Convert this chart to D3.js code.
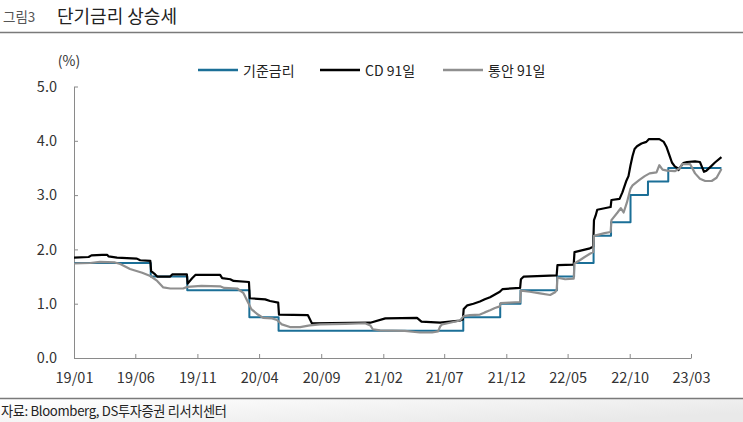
<!DOCTYPE html>
<html>
<head>
<meta charset="utf-8">
<script src="https://cdn.jsdelivr.net/npm/d3@7"></script>
<style>
  body { margin: 0; background: #fff; }
  svg { display: block; }
</style>
</head>
<body>
<svg id="chart" width="743" height="422"></svg>
<script>
// series names and colours (legend order = draw order)
const seriesNames = ["기준금리", "CD 91일", "통안 91일"];
const seriesColors = ["#1b6f97", "#000000", "#8f8f8f"];

const tickDates = ["2019-01-10", "2019-06-10", "2019-11-10", "2020-04-10", "2020-09-10", "2021-02-10",
  "2021-07-10", "2021-12-10", "2022-05-10", "2022-10-10", "2023-03-10"];
const tickLabels = ["19/01", "19/06", "19/11", "20/04", "20/09", "21/02", "21/07", "21/12", "22/05", "22/10", "23/03"];
const yTicks = [0, 1, 2, 3, 4, 5];

// 기준금리 (step)
const baseRate = [
  ["2019-01-10", 1.75], ["2019-07-18", 1.50], ["2019-10-16", 1.25], ["2020-03-17", 0.75],
  ["2020-05-28", 0.50], ["2021-08-26", 0.75], ["2021-11-25", 1.00], ["2022-01-14", 1.25],
  ["2022-04-14", 1.50], ["2022-05-26", 1.75], ["2022-07-13", 2.25], ["2022-08-25", 2.50],
  ["2022-10-12", 3.00], ["2022-11-24", 3.25], ["2023-01-13", 3.50], ["2023-05-24", 3.50]
];

// CD 91일
const cd91 = [
  ["2019-01-10", 1.85], ["2019-02-15", 1.86], ["2019-02-22", 1.89], ["2019-03-20", 1.90],
  ["2019-04-02", 1.90], ["2019-04-05", 1.87], ["2019-04-26", 1.85], ["2019-06-14", 1.83],
  ["2019-06-22", 1.80], ["2019-07-17", 1.79], ["2019-07-19", 1.60], ["2019-07-29", 1.54],
  ["2019-08-03", 1.50], ["2019-09-04", 1.50], ["2019-09-09", 1.54], ["2019-10-15", 1.54],
  ["2019-10-17", 1.37], ["2019-10-28", 1.47], ["2019-11-05", 1.53], ["2020-01-05", 1.53],
  ["2020-01-10", 1.47], ["2020-01-30", 1.45], ["2020-02-07", 1.42], ["2020-03-16", 1.40],
  ["2020-03-18", 1.10], ["2020-04-25", 1.08], ["2020-05-07", 1.05], ["2020-05-27", 1.02],
  ["2020-05-29", 0.80], ["2020-08-08", 0.79], ["2020-08-18", 0.64], ["2021-01-09", 0.65],
  ["2021-02-15", 0.73], ["2021-05-04", 0.74], ["2021-05-15", 0.67], ["2021-06-30", 0.65],
  ["2021-08-18", 0.69], ["2021-08-25", 0.71], ["2021-08-27", 0.90], ["2021-09-05", 0.97],
  ["2021-09-20", 1.00], ["2021-10-06", 1.04], ["2021-10-18", 1.08], ["2021-10-31", 1.12],
  ["2021-11-12", 1.17], ["2021-11-24", 1.22], ["2021-12-01", 1.27], ["2022-01-13", 1.29],
  ["2022-01-15", 1.45], ["2022-01-22", 1.50], ["2022-04-13", 1.52], ["2022-04-15", 1.71],
  ["2022-05-25", 1.72], ["2022-05-27", 1.95], ["2022-07-04", 2.02], ["2022-07-12", 2.05],
  ["2022-07-14", 2.54], ["2022-07-18", 2.62], ["2022-07-22", 2.73], ["2022-08-24", 2.78],
  ["2022-08-26", 2.91], ["2022-09-15", 2.93], ["2022-09-22", 3.05], ["2022-10-01", 3.25],
  ["2022-10-07", 3.35], ["2022-10-12", 3.55], ["2022-10-17", 3.72], ["2022-10-22", 3.85],
  ["2022-10-28", 3.90], ["2022-11-08", 3.95], ["2022-11-20", 3.98], ["2022-11-26", 4.03],
  ["2022-12-22", 4.03], ["2023-01-02", 3.98], ["2023-01-09", 3.88], ["2023-01-17", 3.71],
  ["2023-01-22", 3.60], ["2023-01-29", 3.53], ["2023-02-04", 3.50], ["2023-02-07", 3.46],
  ["2023-02-13", 3.53], ["2023-02-19", 3.59], ["2023-02-28", 3.61], ["2023-03-20", 3.62],
  ["2023-04-01", 3.61], ["2023-04-06", 3.52], ["2023-04-11", 3.43], ["2023-04-17", 3.45],
  ["2023-04-27", 3.52], ["2023-05-08", 3.60], ["2023-05-24", 3.70]
];

// 통안 91일
const msb91 = [
  ["2019-01-10", 1.74], ["2019-02-19", 1.75], ["2019-03-15", 1.77], ["2019-04-21", 1.76],
  ["2019-05-04", 1.73], ["2019-05-28", 1.64], ["2019-06-27", 1.57], ["2019-07-17", 1.51],
  ["2019-08-03", 1.42], ["2019-08-18", 1.30], ["2019-09-04", 1.28], ["2019-10-06", 1.28],
  ["2019-10-16", 1.31], ["2019-11-20", 1.33], ["2020-01-05", 1.32], ["2020-01-15", 1.29],
  ["2020-02-16", 1.28], ["2020-03-02", 1.20], ["2020-03-12", 1.05], ["2020-03-22", 0.90],
  ["2020-04-07", 0.80], ["2020-04-20", 0.74], ["2020-05-12", 0.73], ["2020-05-24", 0.70],
  ["2020-06-05", 0.62], ["2020-06-25", 0.57], ["2020-07-20", 0.57], ["2020-08-13", 0.60],
  ["2020-09-07", 0.62], ["2020-11-08", 0.63], ["2020-12-27", 0.64], ["2021-01-09", 0.60],
  ["2021-01-15", 0.53], ["2021-02-02", 0.51], ["2021-04-04", 0.50], ["2021-05-11", 0.47],
  ["2021-06-10", 0.47], ["2021-06-25", 0.49], ["2021-06-30", 0.58], ["2021-07-05", 0.62],
  ["2021-07-24", 0.65], ["2021-08-18", 0.69], ["2021-08-27", 0.77], ["2021-09-11", 0.79],
  ["2021-10-06", 0.80], ["2021-10-18", 0.84], ["2021-10-31", 0.88], ["2021-11-12", 0.92],
  ["2021-11-24", 0.95], ["2021-11-26", 1.01], ["2021-12-19", 1.02], ["2022-01-13", 1.03],
  ["2022-01-15", 1.24], ["2022-02-06", 1.22], ["2022-03-03", 1.19], ["2022-03-28", 1.16],
  ["2022-04-09", 1.21], ["2022-04-13", 1.25], ["2022-04-15", 1.48], ["2022-05-04", 1.45],
  ["2022-05-25", 1.46], ["2022-05-27", 1.74], ["2022-06-09", 1.80], ["2022-06-21", 1.86],
  ["2022-07-04", 1.92], ["2022-07-12", 1.95], ["2022-07-14", 2.25], ["2022-08-09", 2.30],
  ["2022-08-24", 2.32], ["2022-08-26", 2.54], ["2022-09-10", 2.68], ["2022-09-18", 2.76],
  ["2022-09-25", 2.68], ["2022-10-03", 2.86], ["2022-10-12", 3.12], ["2022-10-17", 3.18],
  ["2022-11-03", 3.28], ["2022-11-16", 3.35], ["2022-11-28", 3.40], ["2022-12-15", 3.42],
  ["2022-12-22", 3.55], ["2022-12-30", 3.47], ["2023-01-10", 3.45], ["2023-01-29", 3.44],
  ["2023-02-11", 3.50], ["2023-02-16", 3.57], ["2023-03-08", 3.57], ["2023-03-20", 3.40],
  ["2023-04-01", 3.30], ["2023-04-14", 3.26], ["2023-04-30", 3.26], ["2023-05-12", 3.32],
  ["2023-05-24", 3.48]
];

const FONT = "'Noto Sans CJK KR', 'Noto Sans', sans-serif";
const parse = d3.timeParse("%Y-%m-%d");
const svg = d3.select("#chart").attr("font-family", FONT);

const x = d3.scaleTime()
  .domain([parse(tickDates[0]), parse(tickDates[tickDates.length - 1])])
  .range([74, 691]);
const y = d3.scaleLinear().domain([0, 5]).range([358, 86.5]);

// header
svg.append("text").attr("x", 3).attr("y", 22).attr("font-size", 13.5).attr("fill", "#555")
  .text("그림3");
svg.append("text").attr("x", 57).attr("y", 23).attr("font-size", 18).attr("fill", "#222")
  .text("단기금리 상승세");
svg.append("line").attr("x1", 0).attr("x2", 743).attr("y1", 32.5).attr("y2", 32.5)
  .attr("stroke", "#7a7a7a").attr("stroke-width", 1.6);

// footer
const grad = svg.append("defs").append("linearGradient").attr("id", "foot")
  .attr("x1", 0).attr("x2", 1).attr("y1", 0).attr("y2", 0.6);
grad.append("stop").attr("offset", "0%").attr("stop-color", "#ffffff");
grad.append("stop").attr("offset", "100%").attr("stop-color", "#e9e9e9");
svg.append("rect").attr("x", 0).attr("y", 399).attr("width", 743).attr("height", 23)
  .attr("fill", "url(#foot)");
svg.append("line").attr("x1", 0).attr("x2", 743).attr("y1", 398.5).attr("y2", 398.5)
  .attr("stroke", "#7a7a7a").attr("stroke-width", 1.4);
svg.append("text").attr("x", 1).attr("y", 416).attr("font-size", 13.2).attr("fill", "#222")
  .attr("letter-spacing", -0.35)
  .text("자료: Bloomberg, DS투자증권 리서치센터");

// axes
const yAxis = svg.append("g")
  .attr("transform", "translate(74,0)")
  .call(d3.axisLeft(y).tickValues(yTicks).tickSizeInner(-4).tickSizeOuter(0)
    .tickPadding(17).tickFormat(d3.format(".1f")));
const xAxis = svg.append("g")
  .attr("transform", "translate(0,358)")
  .call(d3.axisBottom(x).tickValues(tickDates.map(parse)).tickSizeInner(-4).tickSizeOuter(0)
    .tickPadding(15).tickFormat((d, i) => tickLabels[i]));

[yAxis, xAxis].forEach((g) => {
  g.select(".domain").attr("stroke", "#8a8a8a");
  g.selectAll(".tick line").attr("stroke", "#8a8a8a");
  g.selectAll(".tick text").attr("fill", "#333").attr("font-size", 14.5).attr("font-family", FONT);
});

svg.append("text").attr("x", 69).attr("y", 66).attr("text-anchor", "middle")
  .attr("font-size", 14).attr("fill", "#333").text("(%)");

// lines
const seriesData = [baseRate, cd91, msb91].map((s) => s.map(([d, v]) => ({ date: parse(d), value: v })));
const curves = [d3.curveStepAfter, d3.curveLinear, d3.curveLinear];
const widths = [2, 2.2, 2.2];

svg.append("g")
  .selectAll("path")
  .data(seriesData)
  .join("path")
  .attr("fill", "none")
  .attr("stroke", (d, i) => seriesColors[i])
  .attr("stroke-width", (d, i) => widths[i])
  .attr("stroke-linejoin", "round")
  .attr("d", (d, i) => d3.line()
    .x((p) => x(p.date))
    .y((p) => y(p.value))
    .curve(curves[i])(d));

// legend
const legendX = [198, 320, 443];
const legend = svg.append("g")
  .selectAll("g")
  .data(seriesNames)
  .join("g")
  .attr("transform", (d, i) => `translate(${legendX[i]},70)`);
legend.append("line").attr("x1", 0).attr("x2", 40).attr("y1", 0).attr("y2", 0)
  .attr("stroke", (d, i) => seriesColors[i]).attr("stroke-width", 2.4);
legend.append("text").attr("x", 45).attr("y", 6).attr("font-size", 14).attr("fill", "#222")
  .text((d) => d);
</script>
</body>
</html>
